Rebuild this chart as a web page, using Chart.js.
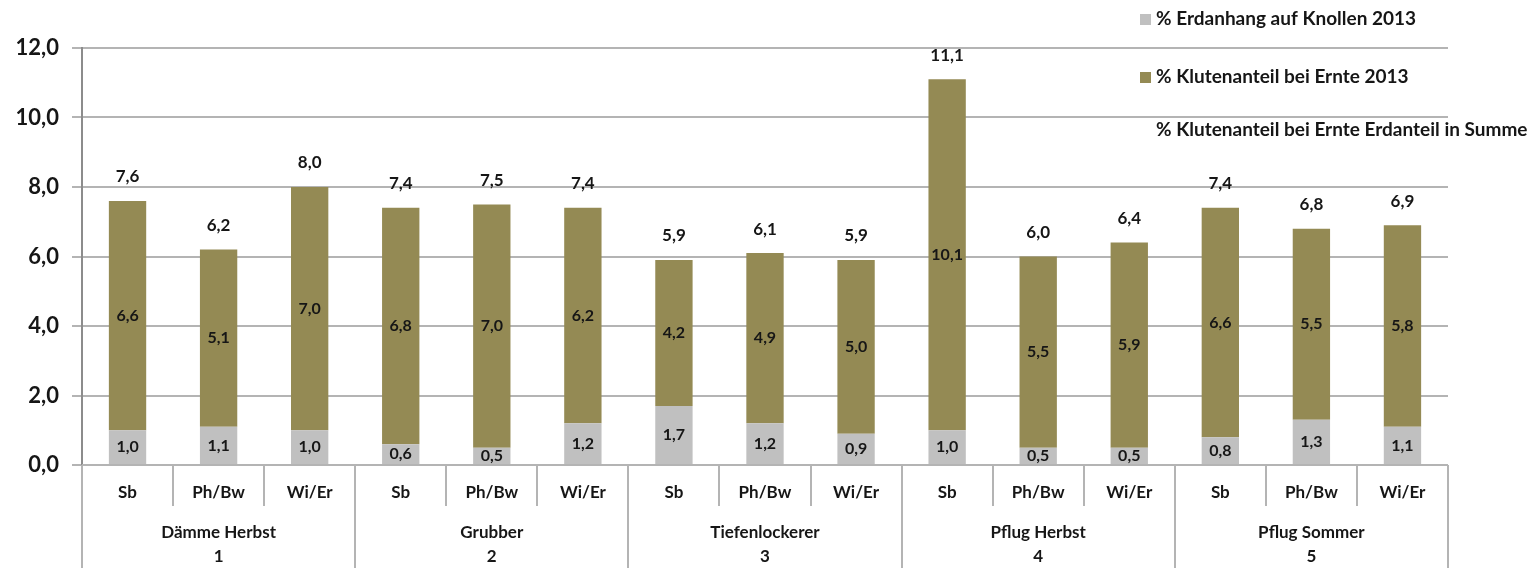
<!DOCTYPE html>
<html>
<head>
<meta charset="utf-8">
<script src="https://cdn.jsdelivr.net/npm/chart.js@4.4.1/dist/chart.umd.min.js"></script>
<style>
  html, body { margin: 0; padding: 0; background: #fff; }
  #wrap { width: 1537px; height: 568px; position: relative; }
</style>
</head>
<body>
<div id="wrap"><canvas id="chart" width="1537" height="568"></canvas></div>
<script>
// Data
const subLabels = ['Sb', 'Ph/Bw', 'Wi/Er', 'Sb', 'Ph/Bw', 'Wi/Er', 'Sb', 'Ph/Bw', 'Wi/Er',
                   'Sb', 'Ph/Bw', 'Wi/Er', 'Sb', 'Ph/Bw', 'Wi/Er'];
const groupNames = ['Dämme Herbst', 'Grubber', 'Tiefenlockerer', 'Pflug Herbst', 'Pflug Sommer'];
const groupNumbers = ['1', '2', '3', '4', '5'];
const erdanhang = [1.0, 1.1, 1.0, 0.6, 0.5, 1.2, 1.7, 1.2, 0.9, 1.0, 0.5, 0.5, 0.8, 1.3, 1.1];
const kluten = [6.6, 5.1, 7.0, 6.8, 7.0, 6.2, 4.2, 4.9, 5.0, 10.1, 5.5, 5.9, 6.6, 5.5, 5.8];
const summe = [7.6, 6.2, 8.0, 7.4, 7.5, 7.4, 5.9, 6.1, 5.9, 11.1, 6.0, 6.4, 7.4, 6.8, 6.9];
const yTicks = [0, 2, 4, 6, 8, 10, 12];

const FONT = 'Lato, "Open Sans", sans-serif';
const GREY = '#c0c0c0';
const OLIVE = '#948a54';
const TEXT = '#161616';
const LINE = '#b4b4b4';

function fmt(v) {
    return v.toFixed(1).replace('.', ',');
}

// Value labels on the bars and the totals above them
const valueLabels = {
    id: 'valueLabels',
    afterDatasetsDraw(chart) {
        const ctx = chart.ctx;
        ctx.save();
        ctx.textAlign = 'center';
        ctx.textBaseline = 'middle';
        ctx.fillStyle = TEXT;
        [0, 1].forEach(di => {
            const meta = chart.getDatasetMeta(di);
            ctx.font = 'bold 16px ' + FONT;
            meta.data.forEach((bar, i) => {
                const v = chart.data.datasets[di].data[i];
                ctx.fillText(fmt(v), bar.x, (bar.y + bar.base) / 2);
            });
        });
        const tot = chart.getDatasetMeta(2);
        ctx.font = 'bold 17px ' + FONT;
        tot.data.forEach((pt, i) => {
            ctx.fillText(fmt(summe[i]), pt.x, pt.y - 24);
        });
        ctx.restore();
    }
};

// Two-level category axis under the plot
const groupAxis = {
    id: 'groupAxis',
    afterDraw(chart) {
        const ctx = chart.ctx;
        const area = chart.chartArea;
        const x = chart.scales.x;
        const step = (area.right - area.left) / subLabels.length;
        const bottom = chart.height;
        ctx.save();
        ctx.strokeStyle = LINE;
        ctx.lineWidth = 2;
        // axis line
        ctx.beginPath();
        ctx.moveTo(area.left, area.bottom);
        ctx.lineTo(area.right, area.bottom);
        ctx.stroke();
        // separators
        for (let i = 0; i <= subLabels.length; i++) {
            const px = Math.round(area.left + i * step);
            const full = i % 3 === 0;
            ctx.beginPath();
            ctx.moveTo(px, area.bottom);
            ctx.lineTo(px, full ? bottom : area.bottom + 41);
            ctx.stroke();
        }
        ctx.fillStyle = TEXT;
        ctx.textAlign = 'center';
        ctx.textBaseline = 'middle';
        ctx.font = 'bold 17px ' + FONT;
        subLabels.forEach((lab, i) => {
            ctx.fillText(lab, x.getPixelForValue(i), area.bottom + 28);
        });
        groupNames.forEach((name, g) => {
            const cx = (x.getPixelForValue(g * 3) + x.getPixelForValue(g * 3 + 2)) / 2;
            ctx.fillText(name, cx, area.bottom + 68);
            ctx.fillText(groupNumbers[g], cx, area.bottom + 92);
        });
        ctx.restore();
    }
};

// Legend drawn over the upper right of the plot
const cornerLegend = {
    id: 'cornerLegend',
    afterDraw(chart) {
        const ctx = chart.ctx;
        const ds = chart.data.datasets;
        const rows = [19, 77, 130];
        ctx.save();
        ctx.font = 'bold 19px ' + FONT;
        ctx.textBaseline = 'middle';
        ctx.textAlign = 'left';
        ds.forEach((d, i) => {
            if (d.type !== 'line') {
                ctx.fillStyle = d.backgroundColor;
                ctx.fillRect(1140, rows[i] - 5, 11, 11);
            }
            ctx.fillStyle = TEXT;
            ctx.fillText(d.label, 1156, rows[i]);
        });
        ctx.restore();
    }
};

const ctx = document.getElementById('chart');
new Chart(ctx, {
    data: {
        labels: subLabels,
        datasets: [
            {
                type: 'bar',
                label: '% Erdanhang auf Knollen 2013',
                data: erdanhang,
                backgroundColor: GREY,
                stack: 's',
                barPercentage: 0.41,
                categoryPercentage: 1
            },
            {
                type: 'bar',
                label: '% Klutenanteil bei Ernte 2013',
                data: kluten,
                backgroundColor: OLIVE,
                stack: 's',
                barPercentage: 0.41,
                categoryPercentage: 1
            },
            {
                type: 'line',
                label: '% Klutenanteil bei Ernte Erdanteil in Summe',
                data: summe,
                showLine: false,
                pointRadius: 0,
                borderColor: 'rgba(0,0,0,0)',
                backgroundColor: 'rgba(0,0,0,0)'
            }
        ]
    },
    options: {
        responsive: false,
        animation: false,
        layout: { padding: { left: 0, top: 48, right: 89, bottom: 103 } },
        plugins: {
            legend: { display: false },
            tooltip: { enabled: false }
        },
        scales: {
            x: {
                display: false,
                stacked: true
            },
            y: {
                stacked: true,
                min: 0,
                max: 12,
                afterFit(scale) { scale.width = 82; },
                afterBuildTicks(scale) { scale.ticks = yTicks.map(v => ({ value: v })); },
                grid: { color: LINE, lineWidth: 2, tickLength: 10, drawTicks: true },
                border: { display: true, color: '#8c8c8c', width: 2 },
                ticks: {
                    padding: 13,
                    color: TEXT,
                    font: { family: FONT, size: 22, weight: 'bold' },
                    callback: v => fmt(v)
                }
            }
        }
    },
    plugins: [valueLabels, groupAxis, cornerLegend]
});
</script>
</body>
</html>
